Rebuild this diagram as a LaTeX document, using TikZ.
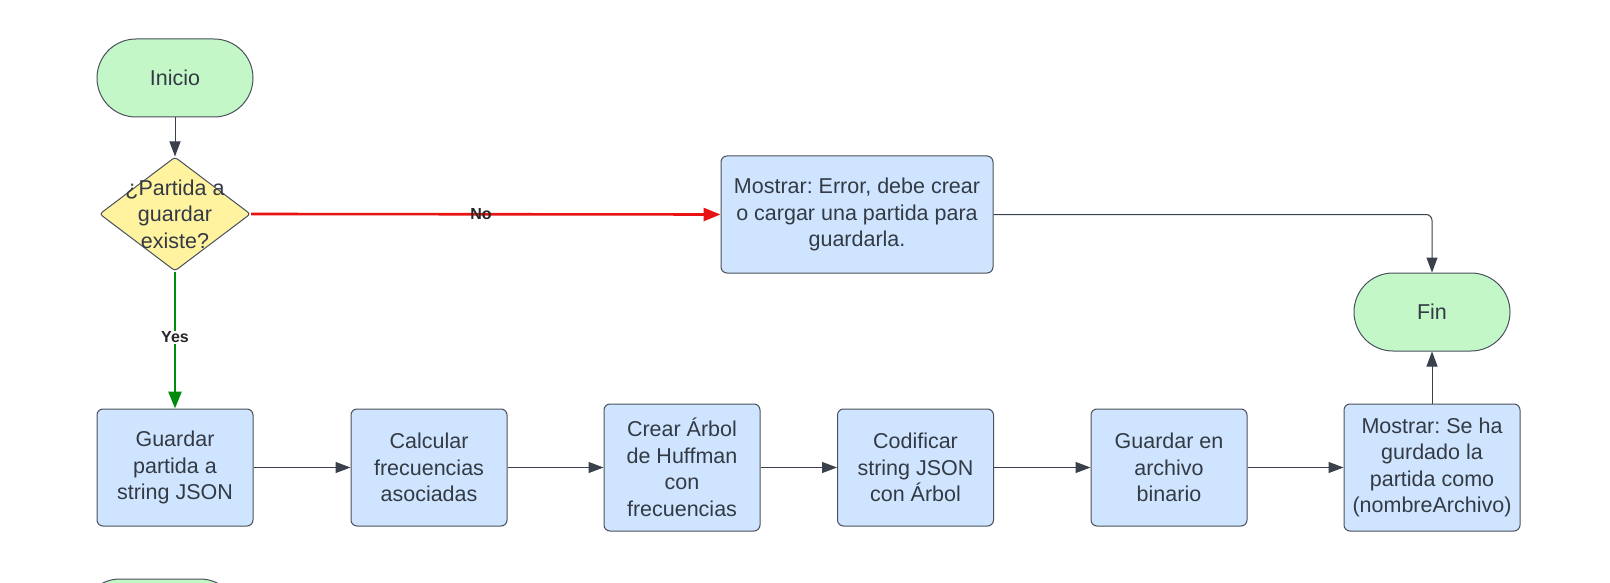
\documentclass[tikz,border=0pt]{standalone}
\usepackage{fontspec}
\setmainfont{Liberation Sans}
\usepackage{tikz}
\usetikzlibrary{shapes.geometric}
\usetikzlibrary{arrows.meta}
\usepackage{xcolor}
\definecolor{cajaazul}{HTML}{CFE4FF}
\definecolor{cajaverde}{HTML}{C3F7C8}
\definecolor{cajaamarilla}{HTML}{FFF3A0}
\definecolor{borde}{HTML}{4A515C}
\definecolor{linea}{HTML}{3A414C}
\definecolor{texto}{HTML}{333A44}
\definecolor{rojo}{HTML}{E81313}
\definecolor{verde}{HTML}{008A0E}
\frenchspacing

\begin{document}
\begin{tikzpicture}[x=1pt,y=-1pt,
  >={Triangle[length=15pt,width=11pt]},
  every node/.style={font=\fontsize{21.5}{26.5}\selectfont,text=texto},
  proceso/.style={draw=borde,fill=cajaazul,line width=1pt,rounded corners=6pt,
    minimum width=156pt,minimum height=117pt,inner sep=0pt,align=center},
  terminal/.style={draw=borde,fill=cajaverde,line width=1pt,rounded corners=39pt,
    minimum width=156pt,minimum height=78pt,inner sep=0pt},
  decision/.style={diamond,draw=borde,fill=cajaamarilla,line width=1pt,rounded corners=3pt,
    minimum width=151pt,minimum height=114pt,inner sep=0pt},
  etiqueta/.style={font=\fontsize{16}{18}\selectfont\bfseries,fill=white,inner sep=1pt},
  flecha/.style={->,draw=linea,line width=1pt},
  rama/.style={-{Triangle[length=17pt,width=13pt]},line width=2.6pt}]
 \useasboundingbox[fill=white] (0,0) rectangle (1610,583);

 % fila de arriba
 \node[terminal] (inicio) at (175,78) {Inicio};
 \node[decision,label={[align=center]center:¿Partida a\\guardar\\existe?}] (existe) at (175,214) {};
 \node[proceso,minimum width=272pt] (error) at (857,214.5) {Mostrar: Error, debe crear\\o cargar una partida para\\guardarla.};
 \node[terminal] (fin) at (1432,312) {Fin};

 % fila de abajo
 \node[proceso] (guardar) at (175,467.5) {Guardar\\partida a\\string JSON};
 \node[proceso] (calcular) at (429,467.5) {Calcular\\frecuencias\\asociadas};
 \node[proceso,minimum height=127pt] (arbol) at (682,467.5) {Crear Árbol\\de Huffman\\con\\frecuencias};
 \node[proceso] (codificar) at (915.5,467.5) {Codificar\\string JSON\\con Árbol};
 \node[proceso] (binario) at (1169,467.5) {Guardar en\\archivo\\binario};
 \node[proceso,minimum width=176pt,minimum height=127pt] (mostrar) at (1432,467.5) {Mostrar: Se ha\\gurdado la\\partida como\\(nombreArchivo)};

 \begin{scope}
  \clip (0,0) rectangle (1610,583);
  \node[terminal,minimum width=158pt] (siguiente) at (160,618) {};
 \end{scope}

 \draw[flecha] (inicio) -- (existe);
 \draw[rama,draw=rojo] (existe.east) -- (error.west) node[pos=0.49,etiqueta,fill=none,text=black!85] {No};
 \draw[rama,draw=verde] (existe.south) -- (guardar.north) node[pos=0.48,etiqueta,text=black!85] {Yes};
 \draw[flecha,rounded corners=6pt] (error.east) -| (fin.north);

 \draw[flecha] (guardar) -- (calcular);
 \draw[flecha] (calcular) -- (arbol);
 \draw[flecha] (arbol) -- (codificar);
 \draw[flecha] (codificar) -- (binario);
 \draw[flecha] (binario) -- (mostrar);
 \draw[flecha] (mostrar) -- (fin);
\end{tikzpicture}
\end{document}
